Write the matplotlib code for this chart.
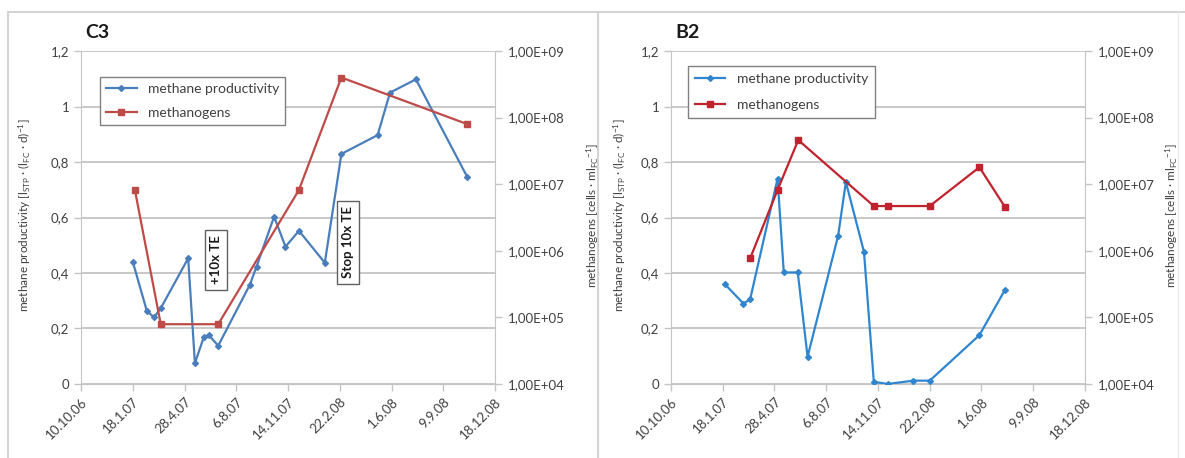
import numpy as np
import pandas as pd
import matplotlib
matplotlib.use("Agg")
import matplotlib.pyplot as plt
from matplotlib.lines import Line2D
from matplotlib.ticker import FixedLocator, FixedFormatter

plt.rcParams['font.family'] = ['Lato', 'DejaVu Sans']
plt.rcParams['mathtext.default'] = 'regular'

# --- data ---
# C3
c3_prod_dates = ["2007-01-18", "2007-02-14", "2007-02-28", "2007-03-13", "2007-05-05",
                 "2007-05-18", "2007-06-04", "2007-06-14", "2007-07-02", "2007-09-01",
                 "2007-09-14", "2007-10-18", "2007-11-09", "2007-12-05", "2008-01-24",
                 "2008-02-25", "2008-05-05", "2008-05-29", "2008-07-18", "2008-10-25"]
c3_prod = [0.44, 0.264, 0.24, 0.273, 0.453, 0.075, 0.168, 0.176, 0.138, 0.357,
           0.423, 0.603, 0.495, 0.552, 0.437, 0.829, 0.897, 1.05, 1.098, 0.747]
c3_meth_dates = ["2007-01-22", "2007-03-13", "2007-07-02", "2007-12-05", "2008-02-25", "2008-10-25"]
c3_meth = [8.2e6, 7.9e4, 7.9e4, 8.2e6, 4.0e8, 8.0e7]

# B2
b2_prod_dates = ["2007-01-22", "2007-02-27", "2007-03-12", "2007-05-04", "2007-05-16",
                 "2007-06-12", "2007-07-01", "2007-08-29", "2007-09-13", "2007-10-18",
                 "2007-11-06", "2007-12-03", "2008-01-21", "2008-02-22", "2008-05-28",
                 "2008-07-16"]
b2_prod = [0.36, 0.29, 0.305, 0.74, 0.402, 0.402, 0.098, 0.534, 0.728, 0.476,
           0.008, 0.0, 0.012, 0.012, 0.176, 0.338]
b2_meth_dates = ["2007-03-12", "2007-05-04", "2007-06-13", "2007-11-06", "2007-12-03",
                 "2008-02-22", "2008-05-28", "2008-07-16"]
b2_meth = [7.7e5, 8.2e6, 4.6e7, 4.7e6, 4.7e6, 4.7e6, 1.8e7, 4.6e6]

tick_dates = ["2006-10-10", "2007-01-18", "2007-04-28", "2007-08-06", "2007-11-14",
              "2008-02-22", "2008-06-01", "2008-09-09", "2008-12-18"]
tick_labels = ["10.10.06", "18.1.07", "28.4.07", "6.8.07", "14.11.07",
               "22.2.08", "1.6.08", "9.9.08", "18.12.08"]
left_ticks = [0, 0.2, 0.4, 0.6, 0.8, 1.0, 1.2]
left_labels = ["0", "0,2", "0,4", "0,6", "0,8", "1", "1,2"]
right_ticks = [1e4, 1e5, 1e6, 1e7, 1e8, 1e9]
right_labels = ["1,00E+04", "1,00E+05", "1,00E+06", "1,00E+07", "1,00E+08", "1,00E+09"]

GRID = "#c4c4c4"
TXT = "#404040"

fig = plt.figure(figsize=(11.85, 4.58), dpi=100)


def panel(left, title, prod_dates, prod, meth_dates, meth, blue, red,
          leg_xy, leg_space, leg_pad, right_lab_x, left_lab_x):
    ax = fig.add_axes([left, 0.1616, 0.3494, 0.727])
    ax2 = ax.twinx()
    td = pd.to_datetime(tick_dates)
    ax.set_xlim(td[0], td[-1])
    ax.xaxis.set_major_locator(FixedLocator(matplotlib.dates.date2num(td)))
    ax.xaxis.set_major_formatter(FixedFormatter(tick_labels))
    ax.set_ylim(0, 1.2)
    ax.set_yticks(left_ticks)
    ax.set_yticklabels(left_labels)
    ax2.set_yscale("log")
    ax2.set_ylim(1e4, 1e9)
    ax2.yaxis.set_major_locator(FixedLocator(right_ticks))
    ax2.yaxis.set_major_formatter(FixedFormatter(right_labels))
    ax2.yaxis.set_minor_locator(FixedLocator([]))

    ax.yaxis.grid(True, color=GRID, lw=1.3)
    ax.set_axisbelow(True)
    for s in ["top", "right"]:
        ax.spines[s].set_visible(False)
    for s in ["top", "left", "bottom"]:
        ax2.spines[s].set_visible(False)
    for s in ["left", "bottom"]:
        ax.spines[s].set_color(GRID)
    ax2.spines["right"].set_color(GRID)

    ax.tick_params(axis="both", colors=GRID, labelcolor=TXT, labelsize=9.5, length=5, width=1)
    ax2.tick_params(axis="y", colors=GRID, labelcolor=TXT, labelsize=9.5, length=5, width=1, pad=4)
    for lab in ax.get_xticklabels():
        lab.set_rotation(45)
        lab.set_ha("right")
        lab.set_rotation_mode("anchor")

    l1, = ax.plot(pd.to_datetime(prod_dates), prod, color=blue, lw=1.6, marker="D",
                  ms=3, label="methane productivity", zorder=3)
    l2, = ax2.plot(pd.to_datetime(meth_dates), meth, color=red, lw=1.6, marker="s",
                   ms=5, label="methanogens", zorder=3)

    ax.set_ylabel(r"methane productivity [l$_{STP}$ · (l$_{FC}$ · d)$^{-1}$]",
                  fontsize=8.5, color=TXT)
    ax.yaxis.set_label_coords(left_lab_x, 0.507)
    ax2.set_ylabel(r"methanogens [cells · ml$_{FC}$$^{-1}$]", fontsize=8.5, color=TXT)
    ax2.yaxis.set_label_coords(right_lab_x, 0.507)

    leg = ax2.legend([l1, l2], [l1.get_label(), l2.get_label()], loc="upper left",
                     bbox_to_anchor=leg_xy, borderaxespad=0, fontsize=10, fancybox=False,
                     framealpha=1, edgecolor="#808080", handlelength=2.2,
                     borderpad=leg_pad, labelspacing=leg_space)
    leg.get_frame().set_linewidth(1.0)
    for t in leg.get_texts():
        t.set_color(TXT)
    ax.text(0.01, 1.055, title, transform=ax.transAxes, fontsize=14, fontweight="bold",
            va="center", ha="left", color="#1a1a1a")
    return ax, ax2


axL, axL2 = panel(0.0684, "C3", c3_prod_dates, c3_prod, c3_meth_dates, c3_meth,
                  "#4a7ebb", "#be4b48", (0.046, 0.922), 0.85, 0.43, 1.215, -0.116)
axR, axR2 = panel(0.5662, "B2", b2_prod_dates, b2_prod, b2_meth_dates, b2_meth,
                  "#2f86cf", "#c0232d", (0.041, 0.955), 1.0, 0.5, 1.189, -0.104)

box = dict(boxstyle="square,pad=0.4", fc="white", ec="#606060", lw=1)
axL.text(pd.Timestamp("2007-06-28"), 0.447, "+10x TE", rotation=90, fontsize=9.5,
         fontweight="bold", ha="center", va="center", bbox=box, color="#1a1a1a", zorder=5)
axL.text(pd.Timestamp("2008-03-09"), 0.51, "Stop 10x TE", rotation=90, fontsize=9.5,
         fontweight="bold", ha="center", va="center", bbox=box, color="#1a1a1a", zorder=5)

# panel frames
H, W = 458.0, 1185.0
frame = "#d4d4d4"
fig.add_artist(Line2D([8 / W, 1], [1 - 12 / H, 1 - 12 / H], color=frame, lw=1.5))
fig.add_artist(Line2D([8 / W, 8 / W], [0, 1 - 12 / H], color=frame, lw=1.5))
fig.add_artist(Line2D([598 / W, 598 / W], [0, 1 - 12 / H], color=frame, lw=1.5))
fig.add_artist(Line2D([1178 / W, 1178 / W], [0, 1 - 12 / H], color="#ececec", lw=1))

fig.savefig("out.png", dpi=100)
